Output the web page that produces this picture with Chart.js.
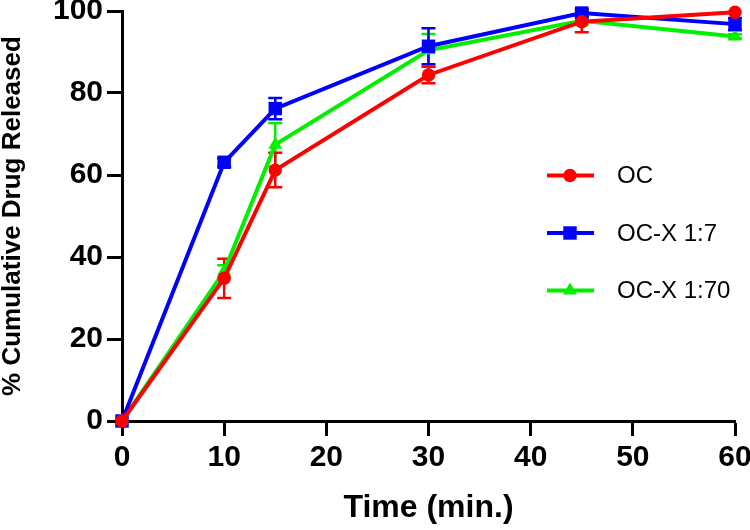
<!DOCTYPE html>
<html>
<head>
<meta charset="utf-8">
<script src="https://cdn.jsdelivr.net/npm/chart.js@4/dist/chart.umd.min.js"></script>
<style>
  html, body { margin: 0; padding: 0; background: #fff; }
  #wrap { width: 750px; height: 530px; }
</style>
</head>
<body>
<div id="wrap"><canvas id="grafico"></canvas></div>
<script>
// datos
const tiempos = [0, 10, 15, 30, 45, 60];
const etiquetas = ['OC', 'OC-X 1:7', 'OC-X 1:70'];
const ocValores = [0, 34.8, 61.2, 84.4, 97.4, 99.7];
const ocErrores = [0, 4.8, 4.2, 2.0, 2.6, 0];
const ocx7Valores = [0, 63.1, 76.2, 91.4, 99.5, 96.8];
const ocx7Errores = [0, 1.0, 2.6, 4.4, 1.0, 1.5];
const ocx70Valores = [0, 36.5, 67.4, 90.4, 97.6, 93.8];
const ocx70Errores = [0, 1.5, 5.3, 4.0, 1.0, 0.5];
const xTicks = [0, 10, 20, 30, 40, 50, 60];
const yTicks = [0, 20, 40, 60, 80, 100];

const colores = ['#ff0000', '#0000ff', '#00f000'];
const puntos = ['circle', 'rect', 'triangle'];
const radios = [6.7, 9.5, 8];
const series = [ocValores, ocx7Valores, ocx70Valores];
const errores = [ocErrores, ocx7Errores, ocx70Errores];

const datasets = series.map((vals, i) => ({
  label: etiquetas[i],
  data: tiempos.map((t, j) => ({ x: t, y: vals[j] })),
  errores: errores[i],
  borderColor: colores[i],
  backgroundColor: colores[i],
  borderWidth: 4,
  pointStyle: puntos[i],
  pointRadius: radios[i],
  pointBorderWidth: 0,
  pointBackgroundColor: colores[i],
  tension: 0,
  clip: false
}));

// barras de error
const barrasError = {
  id: 'barrasError',
  beforeDatasetsDraw(chart) {
    const { ctx, scales: { x, y } } = chart;
    ctx.save();
    ctx.lineWidth = 2.5;
    for (let i = chart.data.datasets.length - 1; i >= 0; i--) {
      const ds = chart.data.datasets[i];
      ctx.strokeStyle = ds.borderColor;
      ds.data.forEach((p, j) => {
        const e = ds.errores[j];
        if (!e) return;
        const px = x.getPixelForValue(p.x);
        const top = y.getPixelForValue(p.y + e);
        const bot = y.getPixelForValue(p.y - e);
        ctx.beginPath();
        ctx.moveTo(px, top); ctx.lineTo(px, bot);
        ctx.moveTo(px - 7, top); ctx.lineTo(px + 7, top);
        ctx.moveTo(px - 7, bot); ctx.lineTo(px + 7, bot);
        ctx.stroke();
      });
    }
    ctx.restore();
  }
};

// leyenda con linea y marcador
const leyenda = {
  id: 'leyenda',
  afterDraw(chart) {
    const { ctx } = chart;
    ctx.save();
    chart.data.datasets.forEach((ds, i) => {
      const yy = 175.5 + i * 57.5;
      ctx.strokeStyle = ds.borderColor;
      ctx.lineWidth = 4;
      ctx.beginPath();
      ctx.moveTo(547, yy); ctx.lineTo(594, yy);
      ctx.stroke();
      ctx.fillStyle = ds.borderColor;
      Chart.helpers.drawPoint(ctx, { pointStyle: ds.pointStyle, radius: ds.pointRadius, borderWidth: 0 }, 570, yy);
      ctx.fillStyle = '#000';
      ctx.font = '24px "Liberation Sans", Arial, sans-serif';
      ctx.textBaseline = 'middle';
      ctx.fillText(ds.label, 617, yy + 1);
    });
    ctx.restore();
  }
};

// quitar el relleno automatico de las etiquetas
function sinRelleno(scale) {
  scale.paddingTop = 0;
  scale.paddingBottom = 0;
  scale.paddingLeft = 0;
  scale.paddingRight = 0;
}

new Chart(document.getElementById('grafico').getContext('2d'), {
  type: 'line',
  data: { datasets },
  plugins: [barrasError, leyenda],
  options: {
    responsive: true,
    maintainAspectRatio: false,
    animation: false,
    layout: { autoPadding: false, padding: { top: 11, right: 15, left: 0, bottom: 0 } },
    plugins: {
      legend: { display: false },
      tooltip: { enabled: false }
    },
    scales: {
      x: {
        type: 'linear',
        min: 0,
        max: 60,
        afterFit(scale) { scale.height = 109; sinRelleno(scale); },
        afterBuildTicks(scale) { scale.ticks = xTicks.map(v => ({ value: v })); },
        grid: { drawOnChartArea: false, drawTicks: true, tickLength: 15, tickWidth: 3, tickColor: '#000' },
        border: { display: true, width: 3, color: '#000' },
        ticks: { color: '#000', padding: 4, maxRotation: 0, font: { family: '"Liberation Sans", Arial', size: 30, weight: 'bold' } },
        title: {
          display: true,
          text: 'Time (min.)',
          color: '#000',
          padding: { top: 0, bottom: 6 },
          font: { family: '"Liberation Sans", Arial', size: 32, weight: 'bold', lineHeight: 1 }
        }
      },
      y: {
        min: 0,
        max: 100,
        afterFit(scale) { scale.width = 122; sinRelleno(scale); },
        afterBuildTicks(scale) { scale.ticks = yTicks.map(v => ({ value: v })); },
        grid: { drawOnChartArea: false, drawTicks: true, tickLength: 15, tickWidth: 3, tickColor: '#000' },
        border: { display: true, width: 3, color: '#000' },
        ticks: { color: '#000', padding: 4, font: { family: '"Liberation Sans", Arial', size: 30, weight: 'bold' } },
        title: {
          display: true,
          text: '% Cumulative Drug Released',
          color: '#000',
          padding: { top: 0, bottom: 0 },
          font: { family: '"Liberation Sans", Arial', size: 26, weight: 'bold', lineHeight: 1 }
        }
      }
    }
  }
});
</script>
</body>
</html>
